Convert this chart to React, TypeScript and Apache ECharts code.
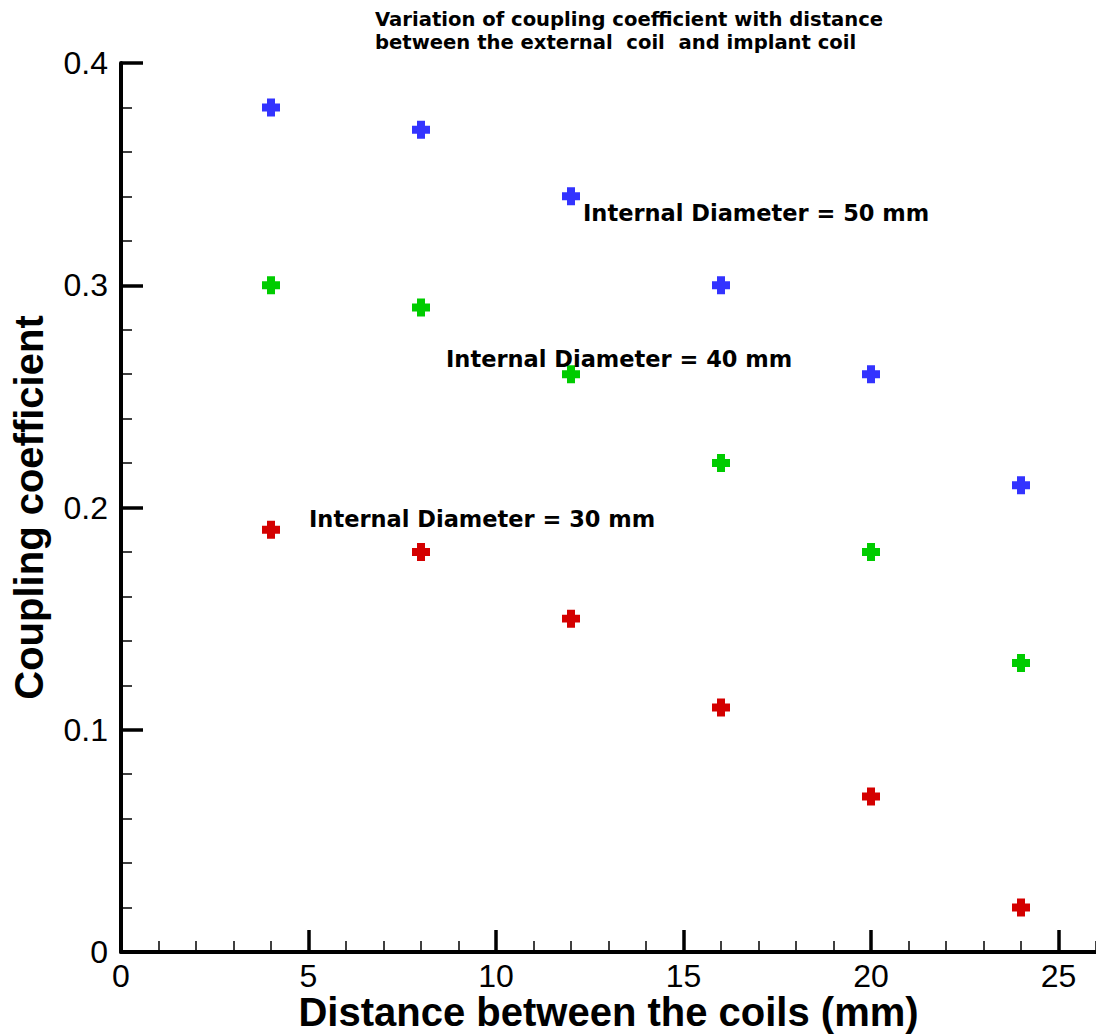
import React, { useEffect, useRef } from "react";
import * as echarts from "echarts";

const distances = [4, 8, 12, 16, 20, 24];
const coupling50 = [0.38, 0.37, 0.34, 0.3, 0.26, 0.21];
const coupling40 = [0.3, 0.29, 0.26, 0.22, 0.18, 0.13];
const coupling30 = [0.19, 0.18, 0.15, 0.11, 0.07, 0.02];
const seriesNames = [
  "Internal Diameter = 50 mm",
  "Internal Diameter = 40 mm",
  "Internal Diameter = 30 mm",
];
const seriesColors = ["#3333ff", "#00cc00", "#d40000"];
const titleLines = [
  "Variation of coupling coefficient with distance",
  "between the external  coil  and implant coil",
];
const xMajorTicks = [0, 5, 10, 15, 20, 25];
const xAxisName = "Distance between the coils (mm)";
const yAxisName = "Coupling coefficient";

const plusSymbol = "path://M5,0H13V5H18V13H13V18H5V13H0V5H5Z";

export default function App() {
  const ref = useRef<HTMLDivElement>(null);
  useEffect(() => {
    if (!ref.current) return;
    const chart = echarts.init(ref.current, undefined, { renderer: "svg" });
    const allSeries = [coupling50, coupling40, coupling30];
    const annotationPos = [
      { x: 583, y: 214 },
      { x: 446, y: 360 },
      { x: 309, y: 520 },
    ];
    chart.setOption({
      animation: false,
      backgroundColor: "#ffffff",
      title: {
        text: titleLines.join("\n"),
        left: 375,
        top: 8,
        padding: 0,
        textStyle: {
          fontFamily: "DejaVu Sans",
          fontWeight: "bold",
          fontSize: 19.6,
          lineHeight: 23,
          color: "#000",
        },
      },
      grid: {
        left: 121,
        right: 0,
        top: 63,
        bottom: 84,
        containLabel: false,
        outerBoundsMode: "none",
      },
      xAxis: [
        {
          type: "value",
          min: 0,
          max: 26,
          interval: 5,
          name: xAxisName,
          nameLocation: "middle",
          nameGap: 43,
          nameMoveOverlap: false,
          nameTextStyle: {
            fontFamily: "Liberation Sans",
            fontWeight: "bold",
            fontSize: 40,
            lineHeight: 34,
            color: "#000",
          },
          axisLine: { show: true, onZero: false, lineStyle: { color: "#000", width: 4 } },
          axisTick: {
            show: true,
            inside: true,
            length: 22,
            lineStyle: { color: "#000", width: 3.5 },
            customValues: xMajorTicks,
          },
          axisLabel: {
            show: true,
            margin: 11,
            fontFamily: "Liberation Sans",
            fontSize: 32,
            lineHeight: 26,
            color: "#000",
            customValues: xMajorTicks,
          },
          splitLine: { show: false },
        },
        {
          type: "value",
          min: 0,
          max: 26,
          interval: 1,
          position: "bottom",
          axisLine: { show: false },
          axisTick: { show: true, inside: true, length: 11, lineStyle: { color: "#000", width: 1.5 } },
          axisLabel: { show: false },
          splitLine: { show: false },
        },
      ],
      yAxis: {
        type: "value",
        min: 0,
        max: 0.4,
        interval: 0.1,
        name: yAxisName,
        nameLocation: "middle",
        nameRotate: 90,
        nameGap: 72,
        nameMoveOverlap: false,
        nameTextStyle: {
          fontFamily: "Liberation Sans",
          fontWeight: "bold",
          fontSize: 40,
          color: "#000",
        },
        axisLine: { show: true, onZero: false, lineStyle: { color: "#000", width: 4 } },
        axisTick: { show: true, inside: true, length: 22, lineStyle: { color: "#000", width: 3.5 } },
        minorTick: { show: true, splitNumber: 5, length: 11, lineStyle: { color: "#000", width: 1.5 } },
        axisLabel: {
          margin: 13,
          fontFamily: "Liberation Sans",
          fontSize: 32,
          color: "#000",
          formatter: (v: number) => (v === 0 ? "0" : v.toFixed(1)),
        },
        splitLine: { show: false },
      },
      series: allSeries.map((vals, i) => ({
        name: seriesNames[i],
        type: "scatter",
        xAxisIndex: 0,
        symbol: plusSymbol,
        symbolSize: 18,
        itemStyle: { color: seriesColors[i], opacity: 1 },
        data: distances.map((d, j) => [d, vals[j]]),
        z: 5,
      })),
      graphic: seriesNames.map((name, i) => ({
        type: "text",
        left: annotationPos[i].x,
        top: annotationPos[i].y - 13,
        z: 10,
        style: {
          text: name,
          fontFamily: "DejaVu Sans",
          fontWeight: "bold",
          fontSize: 22.5,
          fill: "#000",
        },
      })),
    });
    return () => chart.dispose();
  }, []);
  return (
    <div
      ref={ref}
      style={{ position: "absolute", left: 0, top: 0, width: 1096, height: 1036 }}
    />
  );
}
